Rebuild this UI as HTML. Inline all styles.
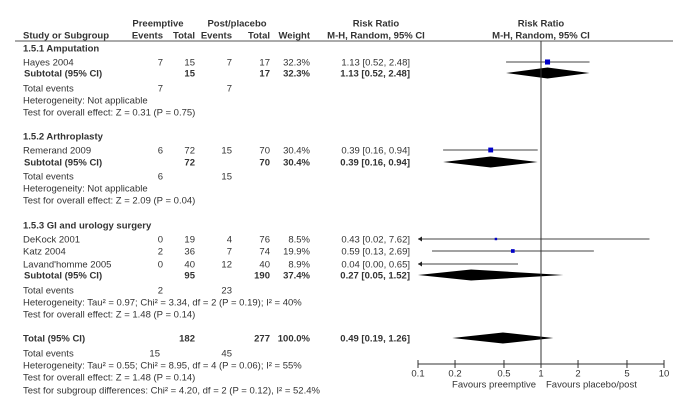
<!DOCTYPE html>
<html><head><meta charset="utf-8"><style>
html,body{margin:0;padding:0;background:#fff;width:680px;height:406px;overflow:hidden}
svg text{font-family:"Liberation Sans",Arial,sans-serif;font-size:9.5px;fill:#333}
.b{font-weight:bold}
</style></head><body>
<svg width="680" height="406" viewBox="0 0 680 406">
<g id="txt"></g>
<g id="plot"></g>
</svg>
<script>
const studies=["Hayes 2004","Remerand 2009","DeKock  2001","Katz 2004","Lavand'homme 2005"];
const studyY=[62,150,239,251,264];
const studyEst=[1.13,0.39,0.43,0.59,0.04];
const studyLo=[0.52,0.16,0.02,0.13,0.00];
const studyHi=[2.48,0.94,7.62,2.69,0.65];
const studyWeight=[32.3,30.4,8.5,19.9,8.9];
const studyCells=[["7","15","7","17"],["6","72","15","70"],["0","19","4","76"],["2","36","7","74"],["0","40","12","40"]];
const pooledNames=["Subtotal (95% CI)","Subtotal (95% CI)","Subtotal (95% CI)","Total (95% CI)"];
const pooledY=[73,162,275,338];
const pooledEst=[1.13,0.39,0.27,0.49];
const pooledLo=[0.52,0.16,0.05,0.19];
const pooledHi=[2.48,0.94,1.52,1.26];
const pooledCells=[["","15","","17","32.3%"],["","72","","70","30.4%"],["","95","","190","37.4%"],["","182","","277","100.0%"]];
const ticks=[0.1,0.2,0.5,1,2,5,10];
const tickLabels=["0.1","0.2","0.5","1","2","5","10"];

const NS="http://www.w3.org/2000/svg";
const T=document.getElementById('txt'),P=document.getElementById('plot');
const xv=v=>541+123*Math.log10(Math.max(v,0.1));
function mk(tag,at,par){const e=document.createElementNS(NS,tag);for(const k in at)e.setAttribute(k,at[k]);par.appendChild(e);return e;}
function tx(s,x,y,anchor,bold,name){const e=mk('text',{x:x,y:y+3.5,'text-anchor':anchor||'start'},T);if(bold)e.setAttribute('class','b');e.textContent=s;

return e;}
const colX=[163,195,232,270,310];
tx("Preemptive",158,23,'middle',1,'preemptive-header');
tx("Post/placebo",237,23,'middle',1,'post-placebo-header');
tx("Risk Ratio",376,23,'middle',1,'risk-ratio-header');
tx("Risk Ratio",541,23,'middle',1,'risk-ratio-plot-header');
tx("Study or Subgroup",23,35,'start',1,'study-header');
tx("Events",163,35,'end',1,'events-header');tx("Total",195,35,'end',1,'total-header');
tx("Events",232,35,'end',1,'events-header');tx("Total",270,35,'end',1,'total-header');
tx("Weight",310,35,'end',1,'weight-header');
tx("M-H, Random, 95% CI",376,35,'middle',1,'method-header');
tx("M-H, Random, 95% CI",541,35,'middle',1,'method-plot-header');
let hl=mk('line',{x1:15,y1:41,x2:673,y2:41,stroke:'#555','stroke-width':1},P);


tx("1.5.1 Amputation",23,48,'start',1,'group-heading');
tx("1.5.2 Arthroplasty",23,136,'start',1,'group-heading');
tx("1.5.3 GI and urology surgery",23,225,'start',1,'group-heading');
const other=[["Total events",88],["Heterogeneity: Not applicable",100],["Test for overall effect: Z = 0.31 (P = 0.75)",112],
["Total events",176],["Heterogeneity: Not applicable",188],["Test for overall effect: Z = 2.09 (P = 0.04)",200],
["Total events",290],["Heterogeneity: Tau\u00b2 = 0.97; Chi\u00b2 = 3.34, df = 2 (P = 0.19); I\u00b2 = 40%",302],["Test for overall effect: Z = 1.48 (P = 0.14)",314],
["Total events",353],["Heterogeneity: Tau\u00b2 = 0.55; Chi\u00b2 = 8.95, df = 4 (P = 0.06); I\u00b2 = 55%",365],["Test for overall effect: Z = 1.48 (P = 0.14)",377],
["Test for subgroup differences: Chi\u00b2 = 4.20, df = 2 (P = 0.12), I\u00b2 = 52.4%",390]];
other.forEach(o=>tx(o[0],23,o[1],'start',0,'summary-text'));
const te=[[88,"7","7"],[176,"6","15"],[290,"2","23"],[353,"15","45"]];
te.forEach(t=>{tx(t[1],t[0]===353?160:163,t[0],'end',0,'total-events');tx(t[2],232,t[0],'end',0,'total-events');});
const f=v=>v.toFixed(2);
studies.forEach((s,i)=>{
 const y=studyY[i];
 tx(s,23,y,'start',0,'study-name');
 studyCells[i].forEach((c,j)=>tx(c,colX[j],y,'end',0,'study-cell'));
 tx(studyWeight[i].toFixed(1)+"%",310,y,'end',0,'study-weight');
 tx(f(studyEst[i])+" ["+f(studyLo[i])+", "+f(studyHi[i])+"]",410,y,'end',0,'study-ci-text');
 const x1=xv(studyLo[i]),x2=xv(studyHi[i]);
 const l=mk('line',{x1:x1,y1:y,x2:x2,y2:y,stroke:'#444','stroke-width':1},P);
 
 
 if(studyLo[i]<0.1){const a=mk('path',{d:`M${x1} ${y} l4 -2.5 v5 z`,fill:'#222'},P);
  
  }
 if(studyEst[i]>=0.1){
  const sz=1.5+studyWeight[i]*0.11;
  const r=mk('rect',{x:xv(studyEst[i])-sz/2,y:y-sz/2,width:sz,height:sz,fill:'#0000c8'},P);
  
  
 }
});
pooledNames.forEach((s,i)=>{
 const y=pooledY[i];
 tx(s,i===3?23:24,y,'start',1,'pooled-name');
 pooledCells[i].forEach((c,j)=>{if(c)tx(c,colX[j],y,'end',1,'pooled-cell');});
 tx(f(pooledEst[i])+" ["+f(pooledLo[i])+", "+f(pooledHi[i])+"]",410,y,'end',1,'pooled-ci-text');
 const d=mk('polygon',{points:`${xv(pooledLo[i])},${y} ${xv(pooledEst[i])},${y-5.5} ${xv(pooledHi[i])},${y} ${xv(pooledEst[i])},${y+5.5}`,fill:'#000'},P);
 
 
});
const vl=mk('line',{x1:xv(1),y1:41,x2:xv(1),y2:364,stroke:'#333','stroke-width':1},P);


const ax=mk('line',{x1:xv(0.1),y1:364,x2:xv(10),y2:364,stroke:'#333','stroke-width':1},P);


ticks.forEach((t,i)=>{
 const tk=mk('line',{x1:xv(t),y1:360,x2:xv(t),y2:368,stroke:'#333','stroke-width':1},P);
 
 
 tx(tickLabels[i],xv(t),373,'middle',0,'x-tick-label');
});
tx("Favours preemptive",536,384,'end',0,'favours-left-label');
tx("Favours placebo/post",546,384,'start',0,'favours-right-label');
</script>
</body></html>
